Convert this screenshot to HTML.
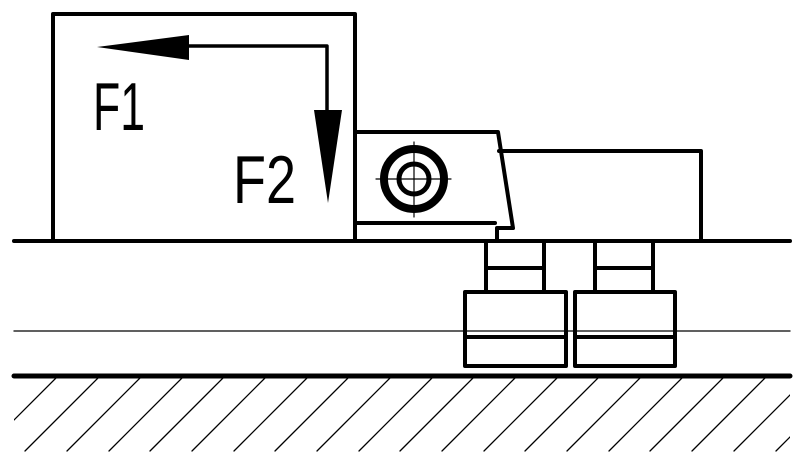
<!DOCTYPE html>
<html><head><meta charset="utf-8"><style>html,body{margin:0;padding:0;background:#fff}svg{display:block}</style></head>
<body>
<svg width="800" height="460" viewBox="0 0 800 460" xmlns="http://www.w3.org/2000/svg">
<g stroke="#000" fill="none" stroke-linecap="round" stroke-linejoin="round">
<clipPath id="c"><rect x="14" y="377" width="776" height="76"/></clipPath>
<g clip-path="url(#c)" stroke-width="1.3">
<line x1="57" y1="377" x2="-17" y2="451"/>
<line x1="99" y1="377" x2="25" y2="451"/>
<line x1="141" y1="377" x2="67" y2="451"/>
<line x1="183" y1="377" x2="109" y2="451"/>
<line x1="224" y1="377" x2="150" y2="451"/>
<line x1="266" y1="377" x2="192" y2="451"/>
<line x1="308" y1="377" x2="234" y2="451"/>
<line x1="349" y1="377" x2="275" y2="451"/>
<line x1="391" y1="377" x2="317" y2="451"/>
<line x1="433" y1="377" x2="359" y2="451"/>
<line x1="474" y1="377" x2="400" y2="451"/>
<line x1="516" y1="377" x2="442" y2="451"/>
<line x1="558" y1="377" x2="484" y2="451"/>
<line x1="599" y1="377" x2="525" y2="451"/>
<line x1="641" y1="377" x2="567" y2="451"/>
<line x1="683" y1="377" x2="609" y2="451"/>
<line x1="724" y1="377" x2="650" y2="451"/>
<line x1="766" y1="377" x2="692" y2="451"/>
<line x1="808" y1="377" x2="734" y2="451"/>
<line x1="850" y1="377" x2="776" y2="451"/>
</g>
<line x1="14" y1="376" x2="790" y2="376" stroke-width="5"/>
<line x1="14" y1="331" x2="790" y2="331" stroke-width="1.3"/>
<line x1="14" y1="241" x2="790" y2="241" stroke-width="4"/>
<path d="M53 241 V14 H355 V241" stroke-width="4"/>
<path d="M355 132 H498 L513 228 H497 V241" stroke-width="4"/>
<path d="M355 223 H495" stroke-width="4"/>
<path d="M499 151 H701 V241" stroke-width="4"/>
<circle cx="414" cy="179" r="30" stroke-width="8"/>
<circle cx="414" cy="179" r="15" stroke-width="5"/>
<line x1="376" y1="179" x2="451" y2="179" stroke-width="1.2"/>
<line x1="414" y1="142" x2="414" y2="217" stroke-width="1.2"/>
<g stroke-width="4">
<path d="M486 241 V292 M544 241 V292 M486 268 H544"/>
<rect x="465" y="292" width="101" height="74"/>
<line x1="465" y1="337" x2="566" y2="337"/>
<path d="M595 241 V292 M653 241 V292 M595 268 H653"/>
<rect x="575" y="292" width="100" height="74"/>
<line x1="575" y1="337" x2="675" y2="337"/>
</g>
<path d="M189 46 H327 V110" stroke-width="3.5"/>
</g>
<polygon points="97,47 189,35 189,60" fill="#000"/>
<polygon points="314,110 342,110 328,203" fill="#000"/>
<g font-family="Liberation Sans, sans-serif" font-size="68" fill="#000">
<text x="93" y="130" textLength="52" lengthAdjust="spacingAndGlyphs">F1</text>
<text x="233" y="203" textLength="63" lengthAdjust="spacingAndGlyphs">F2</text>
</g>
</svg>
</body></html>
